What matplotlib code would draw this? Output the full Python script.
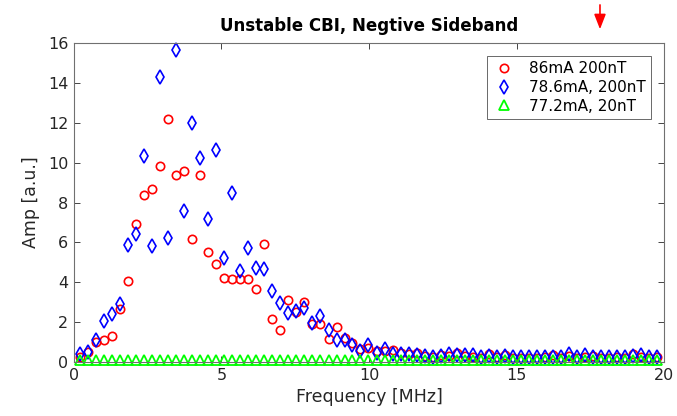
import numpy as np
import matplotlib
matplotlib.use("Agg")
import matplotlib.pyplot as plt

plt.rcParams['font.family'] = ['DejaVu Sans']

freq = [0.20, 0.47, 0.74, 1.02, 1.29, 1.56, 1.83, 2.10, 2.37, 2.65,
        2.92, 3.19, 3.46, 3.73, 4.01, 4.28, 4.55, 4.82, 5.09, 5.36,
        5.64, 5.91, 6.18, 6.45, 6.72, 7.00, 7.27, 7.54, 7.81, 8.08,
        8.35, 8.63, 8.90, 9.17, 9.44, 9.71, 9.98, 10.26, 10.53, 10.80,
        11.07, 11.34, 11.62, 11.89, 12.16, 12.43, 12.70, 12.97, 13.25, 13.52,
        13.79, 14.06, 14.33, 14.61, 14.88, 15.15, 15.42, 15.69, 15.96, 16.24,
        16.51, 16.78, 17.05, 17.32, 17.60, 17.87, 18.14, 18.41, 18.68, 18.95,
        19.23, 19.50, 19.77]

amp_86mA = [0.25, 0.5, 1.0, 1.1, 1.3, 2.65, 4.05, 6.9, 8.37, 8.66,
            9.85, 12.17, 9.38, 9.58, 6.15, 9.38, 5.53, 4.9, 4.23, 4.18,
            4.18, 4.18, 3.66, 5.9, 2.14, 1.6, 3.1, 2.52, 3.02, 1.9,
            1.9, 1.14, 1.74, 1.2, 0.97, 0.65, 0.7, 0.57, 0.55, 0.6,
            0.45, 0.4, 0.44, 0.3, 0.25, 0.33, 0.3, 0.44, 0.3, 0.25,
            0.2, 0.4, 0.25, 0.35, 0.2, 0.22, 0.2, 0.2, 0.25, 0.35,
            0.2, 0.3, 0.22, 0.25, 0.32, 0.2, 0.22, 0.25, 0.2, 0.4,
            0.25, 0.2, 0.25]

amp_786mA = [0.4, 0.52, 1.1, 2.07, 2.4, 2.89, 5.87, 6.4, 10.33, 5.83,
             14.3, 6.23, 15.65, 7.57, 12.0, 10.24, 7.17, 10.63, 5.2, 8.46,
             4.58, 5.7, 4.7, 4.65, 3.58, 2.94, 2.46, 2.54, 2.69, 1.97,
             2.3, 1.6, 1.12, 1.12, 0.84, 0.57, 0.83, 0.45, 0.65, 0.4,
             0.4, 0.4, 0.35, 0.3, 0.27, 0.3, 0.4, 0.35, 0.35, 0.35,
             0.27, 0.3, 0.27, 0.3, 0.27, 0.27, 0.25, 0.25, 0.27, 0.25,
             0.25, 0.42, 0.25, 0.33, 0.27, 0.27, 0.27, 0.27, 0.25, 0.3,
             0.33, 0.25, 0.27]

amp_772mA = [0.12, 0.11, 0.1, 0.1, 0.09, 0.1, 0.09, 0.09, 0.1, 0.09,
             0.09, 0.1, 0.09, 0.09, 0.09, 0.1, 0.09, 0.09, 0.09, 0.09,
             0.1, 0.09, 0.09, 0.09, 0.09, 0.09, 0.1, 0.09, 0.09, 0.09,
             0.09, 0.09, 0.09, 0.1, 0.09, 0.09, 0.09, 0.09, 0.09, 0.09,
             0.1, 0.09, 0.09, 0.09, 0.09, 0.09, 0.09, 0.09, 0.09, 0.1,
             0.09, 0.09, 0.09, 0.09, 0.09, 0.09, 0.09, 0.09, 0.09, 0.09,
             0.1, 0.09, 0.09, 0.09, 0.09, 0.09, 0.09, 0.09, 0.09, 0.09,
             0.09, 0.09, 0.09]

labels = ['86mA 200nT', '78.6mA, 200nT', '77.2mA, 20nT']

fig = plt.figure(figsize=(6.77, 4.16), dpi=100)
ax = fig.add_axes([0.1093, 0.1298, 0.8715, 0.7668])

ax.plot(freq, amp_86mA, 'o', ms=6, mfc='none', mec=(1, 0, 0), mew=1.2,
        label=labels[0], clip_on=False)
ax.plot(freq, amp_786mA, 'd', ms=7, mfc='none', mec=(0, 0, 1), mew=1.2,
        label=labels[1], clip_on=False)
ax.plot(freq, amp_772mA, '^', ms=6.5, mfc='none', mec=(0, 1, 0), mew=1.3,
        label=labels[2], clip_on=False)

ax.set_xlim(0, 20)
ax.set_ylim(0, 16)
ax.set_xticks([0, 5, 10, 15, 20])
ax.set_yticks(np.arange(0, 17, 2))

axcol = '#262626'
for s in ax.spines.values():
    s.set_color('#707070')
    s.set_linewidth(0.8)
ax.tick_params(direction='in', length=4, width=0.6, color=axcol,
               labelsize=11.5, labelcolor=axcol, top=True, right=True, pad=4)

ax.set_title('Unstable CBI, Negtive Sideband', fontsize=12, fontweight='bold', pad=9)
ax.set_xlabel('Frequency [MHz]', fontsize=12.5, color=axcol, labelpad=4)
ax.set_ylabel('Amp [a.u.]', fontsize=12.5, color=axcol, labelpad=6)

leg = ax.legend(loc='upper right', bbox_to_anchor=(0.978, 0.96), fontsize=11,
                frameon=True, fancybox=False, borderpad=0.35, labelspacing=0.25,
                handletextpad=0.8, handlelength=1.6, borderaxespad=0)
leg.get_frame().set_edgecolor('#262626')
leg.get_frame().set_linewidth(0.6)

ax.annotate('', xy=(17.83, 16.55), xytext=(17.83, 18.05), annotation_clip=False,
            arrowprops=dict(arrowstyle='-|>,head_width=0.35,head_length=0.9',
                            color='red', lw=1.2))

fig.savefig('out.png', dpi=100)
